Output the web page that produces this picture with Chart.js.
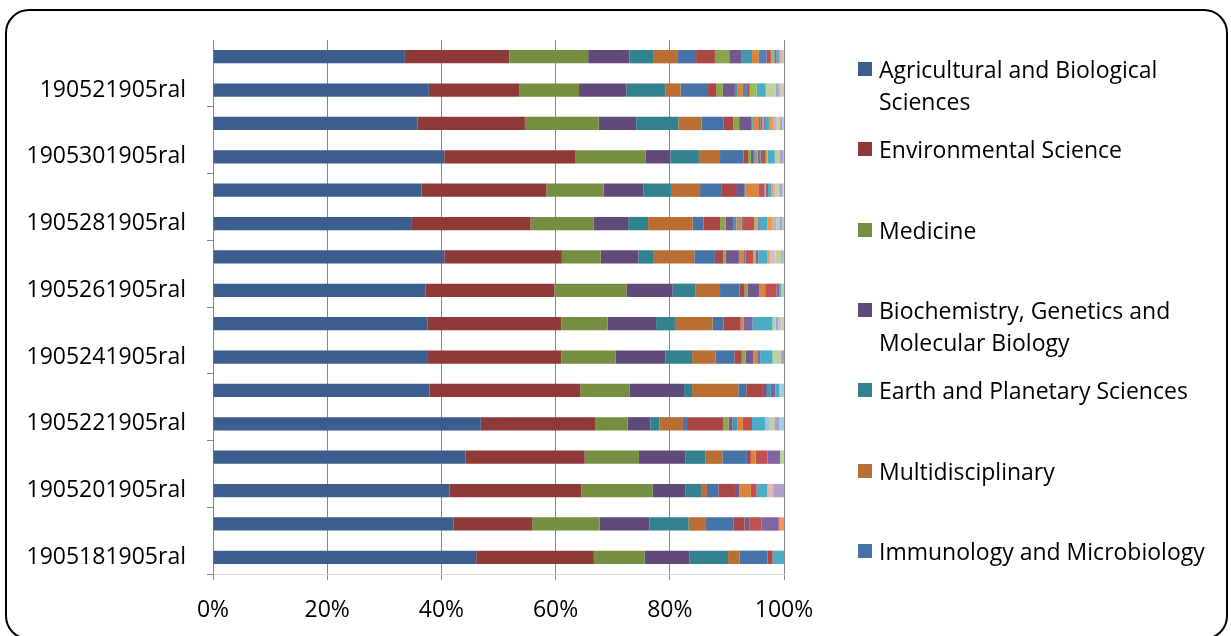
<!DOCTYPE html>
<html>
<head>
<meta charset="utf-8">
<script src="https://cdn.jsdelivr.net/npm/chart.js@4.4.0/dist/chart.umd.min.js"></script>
<style>
  html, body { margin: 0; padding: 0; background: #fff; }
  #wrap { position: relative; width: 1231px; height: 636px; overflow: hidden; background: #fff; font-family: "Open Sans", sans-serif; }
  #frame { position: absolute; left: 5px; top: 9px; width: 1223px; height: 631px; border: 2px solid #000; border-radius: 24px; box-sizing: border-box; pointer-events: none; }
  #chart { position: absolute; left: 0; top: 0; }
  #legend { position: absolute; left: 858px; top: 53px; width: 370px; }
  .item { position: relative; height: 80.33px; }
  .sw { position: absolute; left: 0; top: 9px; width: 14px; height: 14px; }
  .tx { position: absolute; left: 21px; top: 0; width: 336px; font-size: 23px; line-height: 32px; color: #000; }
</style>
</head>
<body>
<div id="wrap">
  <canvas id="chart" width="1231" height="636"></canvas>
  <div id="legend"></div>
  <div id="frame"></div>
</div>
<script>
// Categories, listed from the bottom bar to the top bar
const categories = [
  '1905181905ral', '1905191905ral', '1905201905ral', '1905211905ral',
  '1905221905ral', '1905231905ral', '1905241905ral', '1905251905ral',
  '1905261905ral', '1905271905ral', '1905281905ral', '1905291905ral',
  '1905301905ral', '1905311905ral', '190521905ral', '190531905ral'
];

// Share of documents per subject area (per cent of each category)
const agricultural   = [46.1, 42.1, 41.4, 44.2, 46.9, 37.9, 37.5, 37.6, 37.2, 40.5, 34.7, 36.5, 40.5, 36.0, 37.8, 33.6];
const environmental  = [20.6, 13.8, 23.1, 20.9, 20.0, 26.4, 23.5, 23.4, 22.6, 20.6, 20.9, 21.9, 22.9, 18.9, 15.8, 18.3];
const medicine       = [8.9, 11.8, 12.5, 9.5, 5.7, 8.7, 9.5, 8.1, 12.6, 6.8, 11.1, 10.0, 12.4, 13.0, 10.5, 13.8];
const biochemistry   = [7.8, 8.7, 5.7, 8.1, 4.0, 9.5, 8.7, 8.5, 8.1, 6.6, 6.0, 7.0, 4.3, 6.6, 8.3, 7.2];
const earth          = [6.8, 6.9, 2.9, 3.5, 1.6, 1.4, 4.7, 3.3, 4.0, 2.7, 3.5, 4.8, 5.0, 7.4, 6.8, 4.3];
const multidisc      = [2.0, 2.9, 0.9, 3.0, 4.1, 8.1, 4.1, 6.6, 4.3, 7.1, 7.8, 5.1, 3.7, 4.1, 2.7, 4.1];
const immunology     = [4.9, 5.0, 2.0, 4.3, 0.7, 1.4, 3.3, 1.9, 3.4, 3.6, 1.9, 3.7, 4.1, 3.9, 4.8, 3.3];
const pharmacology   = [0.9, 1.9, 2.9, 0.7, 6.4, 2.9, 1.3, 3.0, 0.9, 1.5, 2.9, 2.6, 0.8, 1.7, 1.4, 3.3];
const socialSci      = [0, 0, 0, 0, 0.9, 0, 0.7, 0, 0.5, 0.4, 1.0, 0, 0.5, 1.0, 1.2, 2.5];
const chemistry      = [0, 0.9, 0.8, 0, 0.7, 0.7, 1.3, 0, 2.1, 2.3, 1.4, 1.4, 0.5, 2.2, 2.1, 2.2];
const engineering    = [0, 0, 0, 0, 0.8, 0.7, 0, 0, 0, 0, 0.5, 0.2, 0.2, 0.2, 0.5, 1.8];
const veterinary     = [0, 0, 2.0, 0.8, 1.0, 0, 0.7, 0.5, 1.0, 0.9, 0.9, 2.3, 0.5, 1.1, 0.9, 1.2];
const energy         = [0, 0, 0, 0, 0, 0, 0.6, 0, 0, 0.3, 0.4, 0, 0.5, 0.3, 0.7, 1.3];
const chemEng        = [0, 2.1, 1.0, 2.1, 1.6, 0, 0, 0, 2.0, 1.3, 1.8, 1.1, 0.9, 0.3, 0.5, 0.8];
const physics        = [0, 0, 0, 0, 0, 0, 0, 0, 0, 0.4, 0.6, 0.2, 0.3, 0.3, 1.2, 0.6];
const materials      = [0, 3.0, 0, 2.2, 0, 0.8, 0, 1.6, 0.5, 0.5, 0.2, 0.4, 0, 0.3, 0, 0.4];
const computerSci    = [2.0, 0, 1.9, 0, 2.3, 0.7, 2.1, 3.5, 0.3, 1.6, 1.5, 0.6, 1.3, 0.7, 1.6, 0.4];
const mathematics    = [0, 0.9, 0, 0, 0, 0, 0, 0, 0, 0.4, 0.9, 0.3, 0, 0.7, 0, 0.3];
const economics      = [0, 0, 0, 0, 0.8, 0, 0, 0, 0, 0.2, 0.7, 0.4, 0, 0.4, 0, 0.3];
const business       = [0, 0, 1.0, 0, 0, 0, 0, 0, 0, 0.8, 0, 0.3, 0, 0.3, 0, 0.3];
const arts           = [0, 0, 0, 0.7, 0.8, 0, 1.4, 0.5, 0.5, 1.0, 0.6, 0.5, 0.9, 0.3, 1.7, 0];
const psychology     = [0, 0, 1.9, 0, 0.9, 0, 0.6, 0.5, 0, 0.3, 0.4, 0.4, 0.6, 0.5, 0.6, 0];
const nursing        = [0, 0, 0, 0, 0.8, 0.8, 0, 0.5, 0, 0.2, 0.3, 0.2, 0.1, 0.3, 0.4, 0];
const decisionSci    = [0, 0, 0, 0, 0, 0, 0, 0.5, 0, 0, 0, 0.1, 0, 0, 0.5, 0];

// Tick labels of the value axis
const valueTicks = [0, 20, 40, 60, 80, 100];

const series = [
  ['Agricultural and Biological Sciences', agricultural, '#3B5E8E'],
  ['Environmental Science', environmental, '#8E3A39'],
  ['Medicine', medicine, '#758E41'],
  ['Biochemistry, Genetics and Molecular Biology', biochemistry, '#5F4A7A'],
  ['Earth and Planetary Sciences', earth, '#32818F'],
  ['Multidisciplinary', multidisc, '#B96F33'],
  ['Immunology and Microbiology', immunology, '#4572A7'],
  ['Pharmacology, Toxicology and Pharmaceutics', pharmacology, '#AA4644'],
  ['Social Sciences', socialSci, '#89A54E'],
  ['Chemistry', chemistry, '#71588F'],
  ['Engineering', engineering, '#4198AF'],
  ['Veterinary', veterinary, '#DB843D'],
  ['Energy', energy, '#4F81BD'],
  ['Chemical Engineering', chemEng, '#C0504D'],
  ['Physics and Astronomy', physics, '#9BBB59'],
  ['Materials Science', materials, '#8064A2'],
  ['Computer Science', computerSci, '#4BACC6'],
  ['Mathematics', mathematics, '#F79646'],
  ['Economics, Econometrics and Finance', economics, '#A7BCDB'],
  ['Business, Management and Accounting', business, '#E2B7B6'],
  ['Arts and Humanities', arts, '#BBD39A'],
  ['Psychology', psychology, '#ADA0C8'],
  ['Nursing', nursing, '#A5CFE0'],
  ['Decision Sciences', decisionSci, '#F9BE8F']
];

// Only the first entries fit in the legend box
const legendCount = 7;

// 100% stacked: each category is scaled to its own total
const totals = categories.map((_, i) => series.reduce((s, d) => s + d[1][i], 0));

const datasets = series.map(([label, values, color]) => ({
  label,
  data: values.map((v, i) => v / totals[i] * 100),
  backgroundColor: color,
  borderWidth: 0,
  barPercentage: 0.4,
  categoryPercentage: 1.0
}));

const font = { family: '"Open Sans", sans-serif', size: 23 };

new Chart(document.getElementById('chart').getContext('2d'), {
  type: 'bar',
  data: { labels: categories, datasets },
  options: {
    indexAxis: 'y',
    responsive: false,
    animation: false,
    devicePixelRatio: 1,
    layout: { padding: { top: 40, right: 447, left: 0, bottom: 0 } },
    plugins: { legend: { display: false }, tooltip: { enabled: false } },
    scales: {
      x: {
        stacked: true,
        min: valueTicks[0],
        max: valueTicks[valueTicks.length - 1],
        afterBuildTicks: s => { s.ticks = valueTicks.map(v => ({ value: v })); },
        ticks: { callback: v => v + '%', font, color: '#000', padding: 17, maxRotation: 0 },
        grid: { color: '#878787', lineWidth: 1, tickLength: 6 },
        border: { display: true, color: '#D9D9D9' },
        afterFit: s => { s.height = 62; }
      },
      y: {
        stacked: true,
        reverse: true,
        ticks: {
          autoSkip: false, font, color: '#000', padding: 21,
          callback: function (v, i) { return i % 2 === 0 ? this.getLabelForValue(v) : ''; }
        },
        grid: {
          offset: true, drawOnChartArea: false, tickLength: 6,
          color: c => (c.index % 2 === 0 ? '#878787' : 'rgba(0,0,0,0)')
        },
        border: { display: true, color: '#878787', width: 1 },
        afterFit: s => { s.width = 213; }
      }
    }
  }
});

// Legend box on the right
const legend = document.getElementById('legend');
series.slice(0, legendCount).forEach(([label, , color]) => {
  const item = document.createElement('div');
  item.className = 'item';
  const sw = document.createElement('div');
  sw.className = 'sw';
  sw.style.background = color;
  const tx = document.createElement('div');
  tx.className = 'tx';
  tx.textContent = label;
  item.appendChild(sw);
  item.appendChild(tx);
  legend.appendChild(item);
});
</script>
</body>
</html>
